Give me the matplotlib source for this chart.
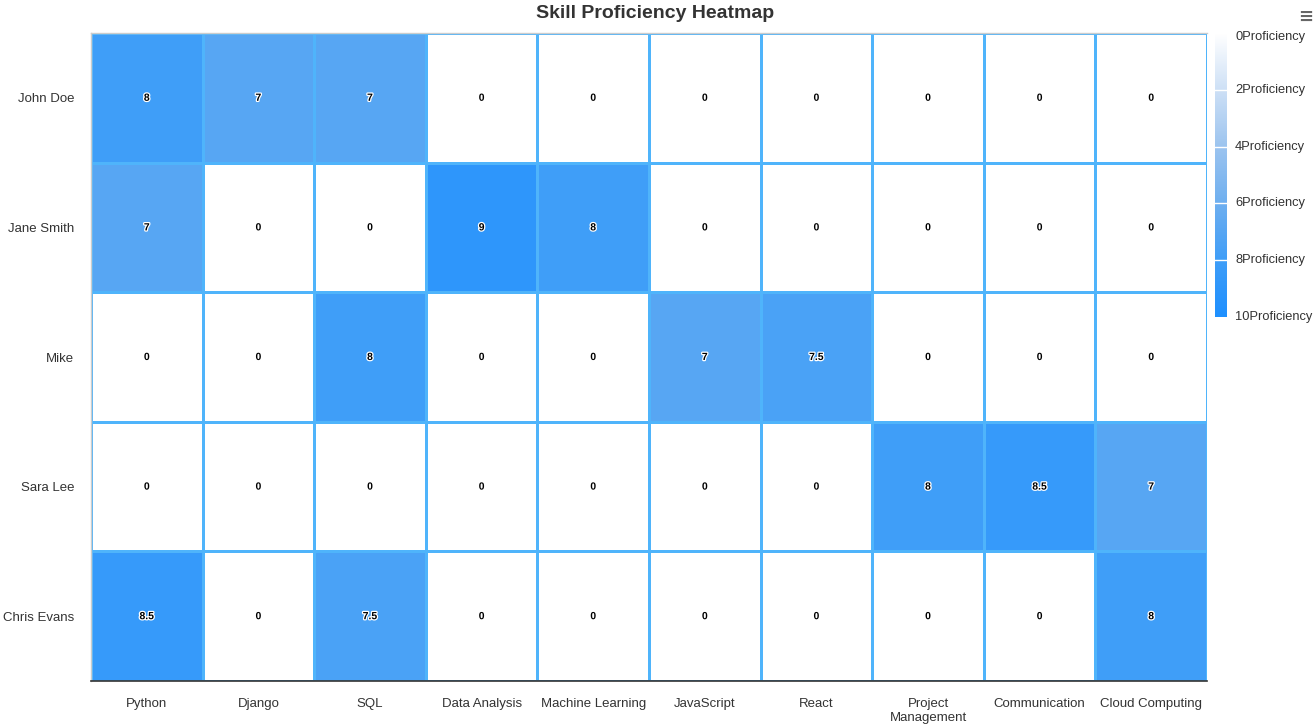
import numpy as np
import matplotlib.pyplot as plt
import matplotlib.patheffects as pe
from matplotlib.colors import LinearSegmentedColormap

plt.rcParams['font.family'] = ['Liberation Sans', 'DejaVu Sans']

people = ["John Doe", "Jane Smith", "Mike", "Sara Lee", "Chris Evans"]
skills = ["Python", "Django", "SQL", "Data Analysis", "Machine Learning",
          "JavaScript", "React", "Project\nManagement", "Communication", "Cloud Computing"]
john = [8, 7, 7, 0, 0, 0, 0, 0, 0, 0]
jane = [7, 0, 0, 9, 8, 0, 0, 0, 0, 0]
mike = [0, 0, 8, 0, 0, 7, 7.5, 0, 0, 0]
sara = [0, 0, 0, 0, 0, 0, 0, 8, 8.5, 7]
chris = [8.5, 0, 7.5, 0, 0, 0, 0, 0, 0, 8]
bar_ticks = [0, 2, 4, 6, 8, 10]

vals = np.array([john, jane, mike, sara, chris])

cmap = LinearSegmentedColormap.from_list("prof", [
    (0.0, "#ffffff"), (0.2, "#cde0f6"), (0.4, "#9cc4ef"), (0.6, "#6eaff0"),
    (0.7, "#57a6f3"), (0.8, "#3f9ef8"), (0.9, "#2e96fb"), (1.0, "#1e90ff")])

W, H = 1313, 728
fig = plt.figure(figsize=(W / 100, H / 100), dpi=100)
ax = fig.add_axes([91 / W, 1 - 681 / H, (1207 - 91) / W, (681 - 33) / H])

ax.pcolormesh(vals, cmap=cmap, vmin=0, vmax=10, edgecolors="#4fb4fb", linewidth=1.0)
ax.set_xlim(0, len(skills))
ax.set_ylim(len(people), 0)

# cell values
for i in range(len(people)):
    for j in range(len(skills)):
        ax.text(j + 0.5, i + 0.5, f"{vals[i, j]:g}", ha="center", va="center",
                fontsize=7.5, fontweight="bold", color="black",
                path_effects=[pe.withStroke(linewidth=1.8, foreground="white")])

ax.set_xticks(np.arange(len(skills)) + 0.5)
ax.set_xticklabels(skills, fontsize=9.5, color="#333333", linespacing=1.3, va="top")
ax.set_yticks(np.arange(len(people)) + 0.5)
ax.set_yticklabels(people, fontsize=9.5, color="#333333")
ax.tick_params(axis="x", length=0, pad=12)
ax.tick_params(axis="y", length=0, pad=12)
for s in ["top", "left"]:
    ax.spines[s].set_color("#cccccc")
    ax.spines[s].set_linewidth(1)
ax.spines["right"].set_visible(False)
ax.spines["bottom"].set_color("#333333")
ax.spines["bottom"].set_linewidth(1.2)

fig.text(655 / W, 1 - 13 / H, "Skill Proficiency Heatmap", ha="center", va="center",
         fontsize=14, fontweight="bold", color="#333333")

# color bar
cax = fig.add_axes([1215 / W, 1 - 317 / H, 12 / W, (317 - 33) / H])
grad = np.linspace(0, 10, 256).reshape(-1, 1)
cax.imshow(grad, aspect="auto", cmap=cmap, vmin=0, vmax=10, extent=[0, 1, 10, 0])
cax.set_xlim(0, 1)
cax.set_ylim(10, 0)
for t in bar_ticks[1:-1]:
    cax.axhline(t, color="white", lw=1)
cax.set_xticks([])
cax.set_yticks([])
for s in cax.spines.values():
    s.set_visible(False)
for t in bar_ticks:
    y = 33 + (317 - 33) * t / 10
    if t == 0:
        y += 4
    fig.text(1235 / W, 1 - y / H, f"{t}Proficiency", ha="left", va="center",
             fontsize=9.3, color="#333333")

fig.text(1306 / W, 1 - 17 / H, "≡", ha="center", va="center", fontsize=13,
         fontweight="bold", color="#666666", family="DejaVu Sans")

fig.savefig("out.png", dpi=100)
